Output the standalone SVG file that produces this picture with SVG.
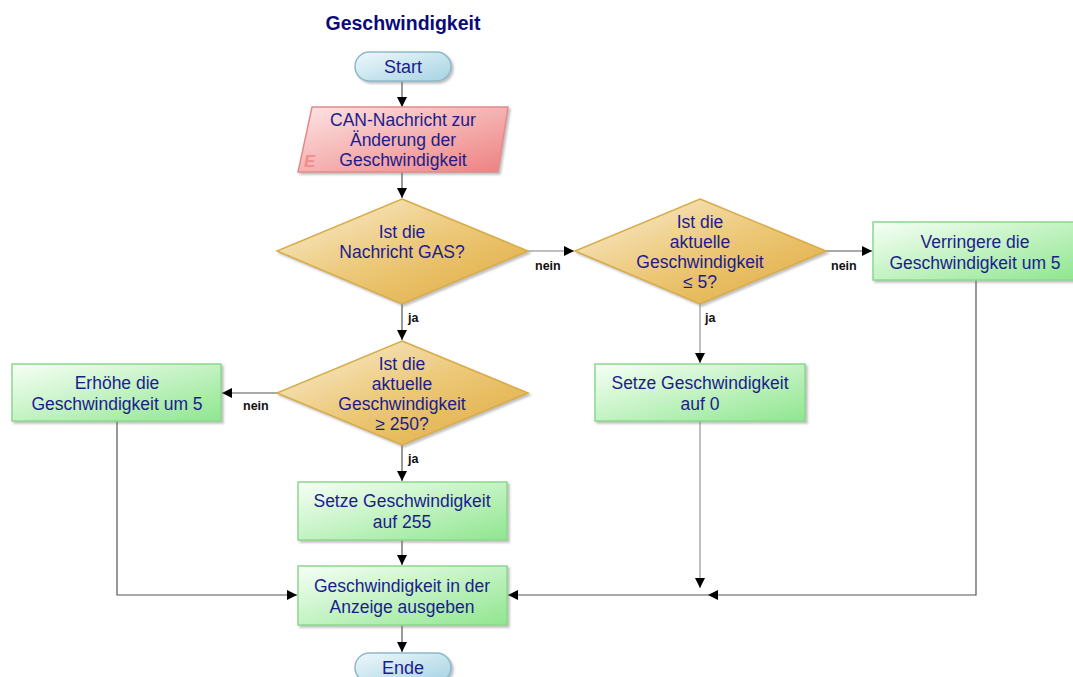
<svg xmlns="http://www.w3.org/2000/svg" width="1073" height="677" viewBox="0 0 1073 677">
<style>
.t{font-family:"Liberation Sans",Arial,sans-serif;font-size:17.5px;fill:#1c1c8c;text-anchor:middle}
.title{font-family:"Liberation Sans",Arial,sans-serif;font-size:19.5px;font-weight:bold;fill:#0a0a78;text-anchor:middle}
.lbl{font-family:"Liberation Sans",Arial,sans-serif;font-size:12.5px;font-weight:bold;fill:#111}
.c{fill:none;stroke:#555;stroke-width:1.2}
.cl{fill:none;stroke:#aaa;stroke-width:1.5}
.box{fill:url(#gGreen);stroke:#8cd88c;stroke-width:1.5;filter:url(#sh)}
.dia{fill:url(#gGold);stroke:#d8ac48;stroke-width:1.5;filter:url(#sh)}
.pill{fill:url(#gBlue);stroke:#8fb9c9;stroke-width:1.5;filter:url(#sh)}
</style>
<defs>
<linearGradient id="gGreen" x1="0" y1="0" x2="1" y2="1"><stop offset="0" stop-color="#f6fff6"/><stop offset="1" stop-color="#8fe68f"/></linearGradient>
<linearGradient id="gGold" x1="0" y1="0" x2="1" y2="1"><stop offset="0" stop-color="#fbf0d8"/><stop offset="0.5" stop-color="#ecc878"/><stop offset="1" stop-color="#e0aa3c"/></linearGradient>
<linearGradient id="gBlue" x1="0" y1="0" x2="1" y2="1"><stop offset="0" stop-color="#eef8fb"/><stop offset="1" stop-color="#a6d3e3"/></linearGradient>
<linearGradient id="gRed" x1="0" y1="0" x2="1" y2="1"><stop offset="0" stop-color="#fde4e4"/><stop offset="1" stop-color="#ee8080"/></linearGradient>
<filter id="sh" x="-10%" y="-10%" width="130%" height="130%"><feDropShadow dx="2" dy="2" stdDeviation="1" flood-color="#808080" flood-opacity="0.5"/></filter>
<marker id="ah" viewBox="0 0 10 10" refX="10" refY="5" markerWidth="10" markerHeight="10" markerUnits="userSpaceOnUse" orient="auto"><path d="M0,0 L10,5 L0,10 z" fill="#000"/></marker>
</defs>
<text class="title" x="403" y="30">Geschwindigkeit</text>
<g id="connectors">
<path class="c" d="M402,81 V107" marker-end="url(#ah)"/>
<path class="c" d="M402,172 V198" marker-end="url(#ah)"/>
<path class="cl" d="M528,251 H574" marker-end="url(#ah)"/>
<path class="c" d="M826,251 H872" marker-end="url(#ah)"/>
<path class="c" d="M402,304 V340" marker-end="url(#ah)"/>
<path class="cl" d="M700,304 V363" marker-end="url(#ah)"/>
<path class="c" d="M277,393 H222" marker-end="url(#ah)"/>
<path class="c" d="M402,445 V481" marker-end="url(#ah)"/>
<path class="c" d="M402,540 V565" marker-end="url(#ah)"/>
<path class="c" d="M402,625 V652" marker-end="url(#ah)"/>
<path class="c" d="M117,421 V595 H297" marker-end="url(#ah)"/>
<path class="cl" d="M700,421 V588" marker-end="url(#ah)"/>
<path class="c" d="M976,280 V595 H708" marker-end="url(#ah)"/>
<path class="c" d="M708,595 H508" marker-end="url(#ah)"/>
<text class="lbl" x="535" y="270">nein</text>
<text class="lbl" x="831" y="270">nein</text>
<text class="lbl" x="243" y="410">nein</text>
<text class="lbl" x="408" y="322">ja</text>
<text class="lbl" x="705" y="322">ja</text>
<text class="lbl" x="408" y="463">ja</text>
</g>
<g id="start">
<rect class="pill" x="355" y="52" width="96" height="29" rx="14.5"/>
<text class="t" x="403" y="73" style="font-size:18px">Start</text>
</g>
<g id="input">
<polygon points="312,107 508,107 498,172 298,172" fill="url(#gRed)" stroke="#e48a8a" stroke-width="1.5" filter="url(#sh)"/>
<text x="304" y="167" style="font-family:'Liberation Sans',Arial,sans-serif;font-size:17px;font-weight:bold;font-style:italic;fill:#f08c8c">E</text>
<text class="t" x="403" y="126">CAN-Nachricht zur</text>
<text class="t" x="403" y="146">Änderung der</text>
<text class="t" x="403" y="166">Geschwindigkeit</text>
</g>
<g id="dec1">
<polygon class="dia" points="402,199 528,251 402,304 277,251"/>
<text class="t" x="402" y="238">Ist die</text>
<text class="t" x="402" y="258">Nachricht GAS?</text>
</g>
<g id="dec2">
<polygon class="dia" points="700,199 826,251 700,304 575,251"/>
<text class="t" x="700" y="228">Ist die</text>
<text class="t" x="700" y="248">aktuelle</text>
<text class="t" x="700" y="268">Geschwindigkeit</text>
<text class="t" x="700" y="288">≤ 5?</text>
</g>
<g id="decrease">
<rect class="box" x="873" y="222" width="202" height="58"/>
<text class="t" x="975" y="248">Verringere die</text>
<text class="t" x="975" y="269">Geschwindigkeit um 5</text>
</g>
<g id="dec3">
<polygon class="dia" points="402,341 528,393 402,445 277,393"/>
<text class="t" x="402" y="370">Ist die</text>
<text class="t" x="402" y="390">aktuelle</text>
<text class="t" x="402" y="410">Geschwindigkeit</text>
<text class="t" x="402" y="430">≥ 250?</text>
</g>
<g id="increase">
<rect class="box" x="12" y="364" width="209" height="57"/>
<text class="t" x="117" y="389">Erhöhe die</text>
<text class="t" x="117" y="410">Geschwindigkeit um 5</text>
</g>
<g id="set0">
<rect class="box" x="595" y="364" width="210" height="57"/>
<text class="t" x="700" y="389">Setze Geschwindigkeit</text>
<text class="t" x="700" y="410">auf 0</text>
</g>
<g id="set255">
<rect class="box" x="298" y="482" width="209" height="58"/>
<text class="t" x="402" y="507">Setze Geschwindigkeit</text>
<text class="t" x="402" y="528">auf 255</text>
</g>
<g id="display">
<rect class="box" x="298" y="566" width="209" height="59"/>
<text class="t" x="402" y="592">Geschwindigkeit in der</text>
<text class="t" x="402" y="613">Anzeige ausgeben</text>
</g>
<g id="end">
<rect class="pill" x="355" y="653" width="96" height="29" rx="14.5"/>
<text class="t" x="403" y="674" style="font-size:18px">Ende</text>
</g>
</svg>
